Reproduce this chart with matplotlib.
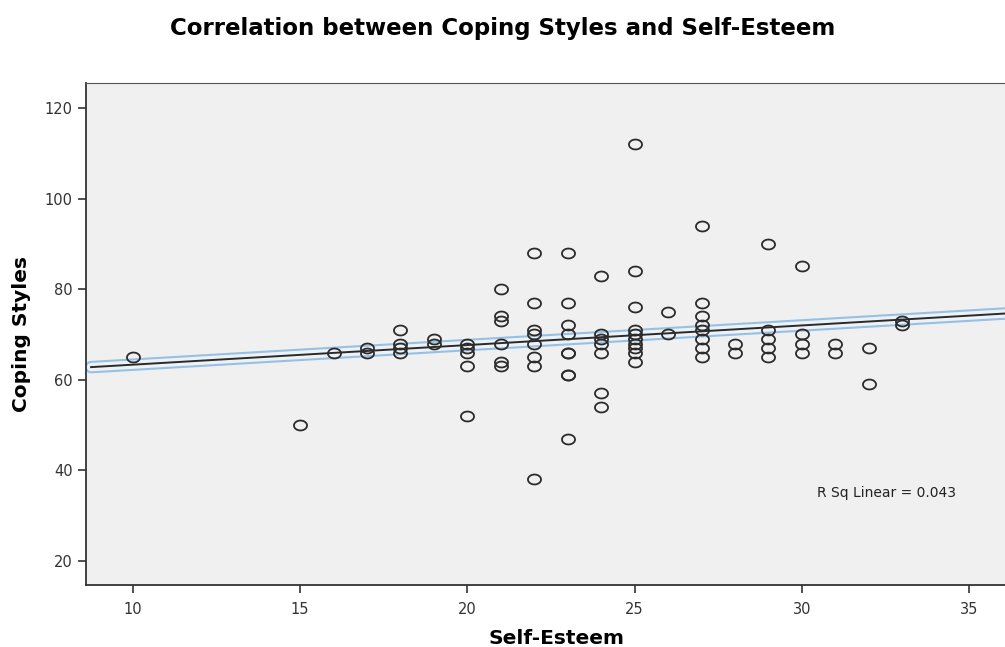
import matplotlib
matplotlib.use("Agg")
import matplotlib.pyplot as plt
from matplotlib.path import Path
import numpy as np

# Self-Esteem score -> Coping Styles score
self_esteem = [10, 15, 16, 17, 17, 18, 18, 18, 18, 19, 19,
               20, 20, 20, 20, 20,
               21, 21, 21, 21, 21, 21,
               22, 22, 22, 22, 22, 22, 22, 22,
               23, 23, 23, 23, 23, 23, 23, 23, 23,
               24, 24, 24, 24, 24, 24, 24,
               25, 25, 25, 25, 25, 25, 25, 25, 25, 25,
               26, 26,
               27, 27, 27, 27, 27, 27, 27, 27,
               28, 28,
               29, 29, 29, 29, 29,
               30, 30, 30, 30,
               31, 31,
               32, 32,
               33, 33]
coping = [65, 50, 66, 67, 66, 71, 68, 67, 66, 69, 68,
          68, 67, 66, 63, 52,
          80, 74, 73, 68, 64, 63,
          88, 77, 71, 70, 68, 65, 63, 38,
          88, 77, 72, 70, 66, 66, 61, 61, 47,
          83, 70, 69, 68, 66, 57, 54,
          112, 84, 76, 71, 70, 69, 68, 67, 66, 64,
          75, 70,
          94, 77, 74, 72, 71, 69, 67, 65,
          68, 66,
          90, 71, 69, 67, 65,
          85, 70, 68, 66,
          68, 66,
          67, 59,
          73, 72]

# linear fit as drawn in the original
fit_intercept = 59.0
fit_slope = 0.433
r_sq = 0.043

x_ticks = [10, 15, 20, 25, 30, 35]
y_ticks = [20, 40, 60, 80, 100, 120]

plt.rcParams['font.family'] = ['DejaVu Sans']

# the source picture is stretched sideways, so circles look like flat ellipses
t = np.linspace(0, 2 * np.pi, 60)
ell = Path(np.column_stack([np.cos(t), 0.76 * np.sin(t)]), closed=True)

fig = plt.figure(figsize=(10.05, 6.47), dpi=100)
# axes runs off the right edge like the cropped original
ax = fig.add_axes([86 / 1005, 1 - 585 / 647, 940 / 1005, 502 / 647])
ax.set_facecolor('#f0f0f0')

xl = (8.6, 36.7)
lx = np.array([8.75, 36.7])
ly = fit_intercept + fit_slope * lx
ax.plot(lx, ly, color='#98c0e4', lw=9, solid_capstyle='round', zorder=2)
ax.plot(lx, ly, color='#edf2f7', lw=6, solid_capstyle='round', zorder=2)
ax.plot(lx, ly, color='#2a2a2a', lw=1.4, zorder=2)

ax.plot(self_esteem, coping, ls='none', marker=ell, ms=9.4, mfc='none',
        mec='#2b2b2b', mew=1.3, zorder=3)

ax.set_xlim(*xl)
ax.set_ylim(14.7, 125.5)
ax.set_xticks(x_ticks)
ax.set_yticks(y_ticks)
ax.tick_params(labelsize=10.5, colors='#333333', length=6, width=1.2, direction='out')
ax.tick_params(axis='x', pad=6)
for s in ['left', 'bottom']:
    ax.spines[s].set_color('#333333')
    ax.spines[s].set_linewidth(1.3)
ax.spines['top'].set_color('#555555')
ax.spines['right'].set_visible(False)

ax.set_xlabel('Self-Esteem', fontsize=14.5, fontweight='bold', labelpad=9)
ax.set_ylabel('Coping Styles', fontsize=14.5, fontweight='bold', labelpad=10)

ax.text(30.45, 34.9, 'R Sq Linear = %.3f' % r_sq, fontsize=10, color='#222222',
        ha='left', va='center')

fig.text(0.5, 1 - 28 / 647, 'Correlation between Coping Styles and Self-Esteem',
         fontsize=16.5, fontweight='bold', ha='center', va='center')

fig.savefig('out.png', dpi=100)
